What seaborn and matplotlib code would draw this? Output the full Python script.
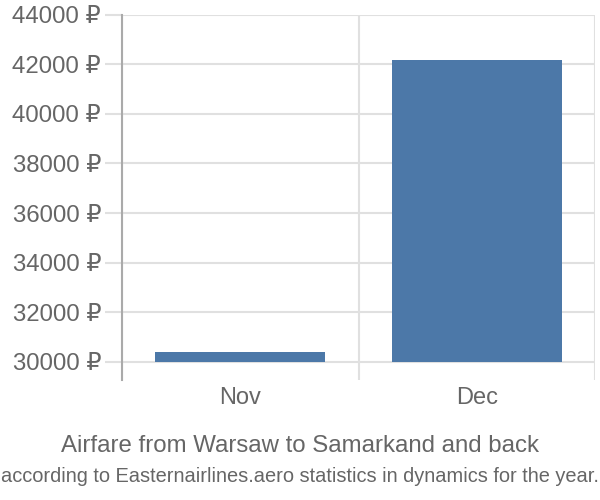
import matplotlib
matplotlib.use("Agg")
import matplotlib.pyplot as plt
import seaborn as sns
import pandas as pd
from matplotlib.ticker import FixedLocator

months = ["Nov", "Dec"]
prices = [30380, 42170]
base_value = 30000
y_ticks = [30000, 32000, 34000, 36000, 38000, 40000, 42000, 44000]
title_line1 = "Airfare from Warsaw to Samarkand and back"
title_line2 = "according to Easternairlines.aero statistics in dynamics for the year."

sns.set_theme(style="white")
plt.rcParams['font.family'] = ['Liberation Sans', 'DejaVu Sans']

df = pd.DataFrame({"month": months, "price": prices})

fig = plt.figure(figsize=(6, 5), dpi=100)
ax = fig.add_axes([0.2033, 0.24, 0.7884, 0.731])

sns.barplot(data=df, x="month", y="price", color="#4c78a8", saturation=1,
            width=0.72, ax=ax, zorder=3)
for p, v in zip(ax.patches, prices):
    p.set_y(base_value)
    p.set_height(v - base_value)
    p.set_edgecolor("none")

ax.set_xlim(-0.5, 1.5)
ax.set_ylim(29270, 44000)
ax.set_yticks(y_ticks)
ax.set_yticklabels([f"{t} ₽" for t in y_ticks])
ax.xaxis.set_minor_locator(FixedLocator([-0.5, 0.5, 1.5]))
ax.grid(True, axis="y", color="#e0e0e0", linewidth=1.5, zorder=0)
ax.grid(True, axis="x", which="minor", color="#e0e0e0", linewidth=1.5, zorder=0)
ax.grid(False, axis="x", which="major")

for s in ["top", "right", "bottom"]:
    ax.spines[s].set_visible(False)
ax.spines["left"].set_color("#aaaaaa")
ax.spines["left"].set_linewidth(1.5)

ax.tick_params(axis="y", which="major", length=12, width=1.5, color="#e0e0e0",
               labelsize=17.3, labelcolor="#666666", pad=3, left=True)
ax.tick_params(axis="x", which="major", length=0, labelsize=17,
               labelcolor="#666666", pad=5)
ax.tick_params(axis="x", which="minor", length=0)
ax.set_xlabel("")
ax.set_ylabel("")

fig.text(0.5, 0.108, title_line1, ha="center", va="center", fontsize=17.3, color="#666666")
fig.text(0.5, 0.048, title_line2, ha="center", va="center", fontsize=14.4, color="#666666")

fig.savefig("out.png", dpi=100)
